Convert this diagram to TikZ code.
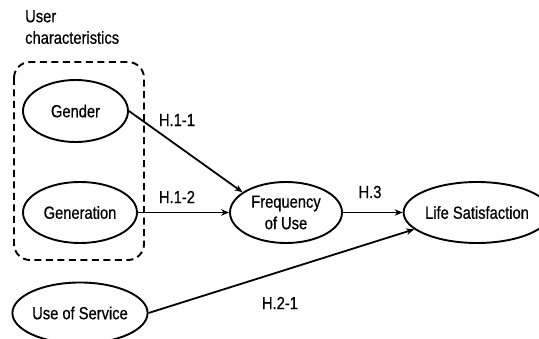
\documentclass[tikz,border=0pt]{standalone}
\usepackage{fontspec}
\setmainfont{Liberation Sans}[FakeStretch=0.84,FakeBold=0.6]
\usetikzlibrary{shapes.geometric,arrows.meta}
\tikzset{
  txt/.style={font=\fontsize{17.5}{21.5}\selectfont, inner sep=0pt},
  oval/.style={ellipse, draw, line width=1.9pt, inner sep=0pt, font=\fontsize{17.5}{21.5}\selectfont, align=center},
  link/.style={line width=1.8pt, -{Stealth[length=8pt,width=6.5pt]}},
  group/.style={draw, line width=1.9pt, dash pattern=on 7pt off 4.5pt, rounded corners=16pt}
}
\begin{document}
\begin{tikzpicture}[x=1pt,y=-1pt]
\useasboundingbox (0,0) rectangle (539,339);
\node[txt, anchor=north west, align=left] (title) at (25,10) {User\\characteristics};
\draw[group] (14,62) rectangle (144,260);
\node[oval, minimum width=105pt, minimum height=62pt] (gender) at (75.5,111) {Gender};
\node[oval, minimum width=114pt, minimum height=61pt] (generation) at (80,212.5) {Generation};
\node[oval, minimum width=114pt, minimum height=61pt] (use) at (80,313) {Use of Service};
\node[oval, minimum width=112pt, minimum height=61pt] (freq) at (286,212.5) {Frequency\\of Use};
\node[oval, minimum width=120pt, minimum height=61pt] (life) at (477,212.5) {Life Satisfaction};
\node[txt] (h11) at (177,120) {H.1-1};
\node[txt] (h12) at (177,197) {H.1-2};
\node[txt] (h3) at (370,192) {H.3};
\node[txt] (h21) at (280,303) {H.2-1};
\draw[link] (gender.east) -- (freq.155);
\draw[link] (generation.east) -- (freq.west);
\draw[link] (freq.east) -- (life.west);
\draw[link] (use.east) -- (life.195);
\end{tikzpicture}
\end{document}
